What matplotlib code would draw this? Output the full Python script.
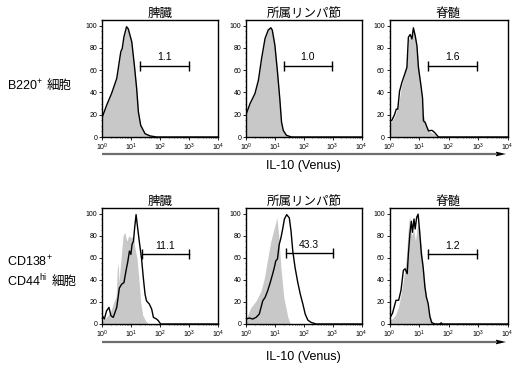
import numpy as np
import matplotlib
matplotlib.use("Agg")
import matplotlib.pyplot as plt
from matplotlib.ticker import FixedLocator, NullFormatter, MultipleLocator
from matplotlib.patches import Polygon
from matplotlib.lines import Line2D

plt.rcParams['font.family'] = ['Liberation Sans', 'Noto Sans CJK JP', 'DejaVu Sans']
plt.rcParams['mathtext.fontset'] = 'custom'
plt.rcParams['mathtext.rm'] = 'Liberation Sans'
plt.rcParams['mathtext.it'] = 'Liberation Sans:italic'
plt.rcParams['mathtext.bf'] = 'Liberation Sans:bold'

# ---------------- data ----------------
tissues = ["脾臓", "所属リンパ節", "脊髄"]
row_label_lines = [[("B220$^{+}$", "細胞")], [("CD138$^{+}$", ""), ("CD44$^{\\mathrm{hi}}$", "細胞")]]
x_axis_label = "IL-10 (Venus)"
tick_exps = [0, 1, 2, 3, 4]
y_ticks = [0, 20, 40, 60, 80, 100]

# gate percentages
gate_values = [["1.1", "1.0", "1.6"], ["11.1", "43.3", "1.2"]]
gate_lo = [[21, 20, 20], [23, 24, 20]]
gate_hi = [[1000, 950, 900], [1000, 1000, 900]]
gate_y = [[64, 64, 64], [63, 64, 63]]

# histograms: log10(fluorescence) positions and % of max
# top row
b_spl_log = [0, 0.15, 0.32, 0.5, 0.64, 0.69, 0.75, 0.84, 0.9, 1.02, 1.11, 1.19, 1.25, 1.33, 1.48, 1.65, 1.88, 4]
b_spl_y = [18, 28.5, 39, 52.5, 76.5, 79.5, 90, 99, 97, 85.5, 64.5, 43.5, 22.5, 10.5, 3, 1, 0, 0]

b_ln_log = [0, 0.14, 0.31, 0.43, 0.54, 0.66, 0.77, 0.86, 0.91, 1.0, 1.09, 1.17, 1.23, 1.29, 1.4, 1.58, 4]
b_ln_y = [20, 30, 39, 51, 70.5, 88.5, 96, 98, 96, 82.5, 58.5, 34.5, 13.5, 6, 1.5, 0, 0]

b_sc_black_log = [0, 0.08, 0.17, 0.23, 0.28, 0.34, 0.42, 0.51, 0.59, 0.64, 0.7, 0.76, 0.81, 0.87,
                  0.93, 0.98, 1.06, 1.12, 1.15, 1.21, 1.32, 1.44, 1.53, 1.66, 4]
b_sc_black_y = [14, 15, 20, 25, 25, 41, 49, 56, 62.5, 89.5, 92, 88, 98, 91,
                82, 62.5, 47.5, 35, 14.5, 13, 5.5, 6, 4, 0, 0]
b_sc_gray_log = [0, 0.1, 0.2, 0.3, 0.4, 0.5, 0.6, 0.65, 0.72, 0.8, 0.87, 0.93, 1.0, 1.08,
                 1.15, 1.25, 1.35, 1.5, 1.65, 4]
b_sc_gray_y = [12, 15, 20, 28, 45, 55, 68, 88, 90, 97, 92, 80, 60, 42, 20, 10, 5, 3, 0, 0]

# bottom row
p_spl_black_log = [0, 0.07, 0.15, 0.23, 0.3, 0.38, 0.44, 0.5, 0.59, 0.67, 0.75, 0.82, 0.88, 0.94,
                   0.99, 1.03, 1.08, 1.12, 1.17, 1.21, 1.28, 1.36, 1.42, 1.48, 1.53, 1.63, 1.71,
                   1.77, 1.88, 1.94, 2.02, 4]
p_spl_black_y = [7.5, 4.5, 12, 15, 7.5, 6, 10.5, 15, 32.5, 36, 37.5, 48, 56, 66,
                 63, 72, 75, 87, 99, 90, 75, 59, 42, 27, 21, 18, 13.5,
                 6, 4.5, 3, 0, 0]
p_spl_gray_log = [0, 0.1, 0.2, 0.3, 0.4, 0.48, 0.52, 0.55, 0.58, 0.65, 0.72, 0.78, 0.85, 0.92,
                  1.0, 1.07, 1.12, 1.2, 1.27, 1.33, 1.4, 1.5, 1.6, 4]
p_spl_gray_y = [3, 5, 8, 12, 20, 25, 50, 55, 38, 60, 80, 83, 75, 80,
                78, 80, 70, 60, 40, 20, 8, 3, 0, 0]

p_ln_black_log = [0, 0.12, 0.23, 0.35, 0.46, 0.58, 0.66, 0.75, 0.84, 0.92, 0.98, 1.03, 1.09, 1.15,
                  1.21, 1.27, 1.33, 1.41, 1.5, 1.56, 1.62, 1.7, 1.79, 1.88, 1.97, 2.05, 2.14,
                  2.25, 2.43, 4]
p_ln_black_y = [4.5, 5.4, 4.5, 6, 9, 21, 24, 30, 37.6, 45, 51, 57, 59, 72,
                78, 86, 95, 99, 96, 84, 66, 51, 38, 27, 18, 9, 3.6,
                1.5, 0, 0]
p_ln_gray_log = [0, 0.17, 0.35, 0.52, 0.64, 0.75, 0.86, 0.98, 1.07, 1.13, 1.21, 1.31, 1.45, 1.54, 4]
p_ln_gray_y = [4.5, 15, 21, 30, 42, 59, 75, 87, 96, 81, 51, 24, 6, 0, 0]

p_sc_black_log = [0, 0.1, 0.22, 0.31, 0.39, 0.47, 0.53, 0.6, 0.64, 0.69, 0.74, 0.78, 0.83, 0.87,
                  0.92, 0.97, 1.02, 1.08, 1.14, 1.2, 1.25, 1.31, 1.37, 1.43, 1.54, 1.7, 1.75, 1.8, 4]
p_sc_black_y = [5, 9.6, 21.5, 21.5, 30.5, 48.5, 50, 45.5, 63.5, 81, 93, 83, 95, 86,
                96.4, 99.4, 84.4, 63.5, 51.5, 33.5, 24.5, 18.5, 6.6, 1.2, 0, 0, 1, 0, 0]
p_sc_gray_log = [0, 0.1, 0.2, 0.3, 0.4, 0.5, 0.57, 0.63, 0.68, 0.75, 0.82, 0.88, 0.95, 1.02,
                 1.1, 1.17, 1.25, 1.33, 1.42, 1.5, 4]
p_sc_gray_y = [3, 5, 8, 15, 28, 45, 60, 85, 98, 80, 85, 75, 90, 85,
               65, 45, 25, 12, 4, 0, 0]

gray_curves = [[(b_spl_log, b_spl_y), (b_ln_log, b_ln_y), (b_sc_gray_log, b_sc_gray_y)],
               [(p_spl_gray_log, p_spl_gray_y), (p_ln_gray_log, p_ln_gray_y), (p_sc_gray_log, p_sc_gray_y)]]
black_curves = [[(b_spl_log, b_spl_y), (b_ln_log, b_ln_y), (b_sc_black_log, b_sc_black_y)],
                [(p_spl_black_log, p_spl_black_y), (p_ln_black_log, p_ln_black_y), (p_sc_black_log, p_sc_black_y)]]

# ---------------- layout ----------------
W, H = 520, 365
fig = plt.figure(figsize=(W / 100, H / 100), dpi=100)

col_left = [102.3, 246, 389.5]
col_w = [115.5, 115.5, 118]
row_top = [20, 208]
row_h = [117, 116]

def fx(px):
    return px / W

def fy(py):
    return 1 - py / H

for r in range(2):
    for c in range(3):
        ax = fig.add_axes([fx(col_left[c]), fy(row_top[r] + row_h[r]), col_w[c] / W, row_h[r] / H])
        gl, gy = gray_curves[r][c]
        bl, by = black_curves[r][c]
        gx = 10 ** np.array(gl, dtype=float)
        bx = 10 ** np.array(bl, dtype=float)
        ax.fill_between(gx, 0, gy, color='#c8c8c8', lw=0, zorder=1)
        ax.plot(bx, by, color='black', lw=1.0, zorder=2)
        ax.set_xscale('log')
        ax.set_xlim(1, 1e4)
        ax.set_ylim(0, 105)
        ax.set_xticks([10 ** e for e in tick_exps])
        ax.set_xticklabels([f"$10^{{{e}}}$" for e in tick_exps])
        ax.xaxis.set_minor_locator(FixedLocator([m * 10 ** e for e in range(4) for m in range(2, 10)]))
        ax.xaxis.set_minor_formatter(NullFormatter())
        ax.set_yticks(y_ticks)
        ax.yaxis.set_minor_locator(MultipleLocator(5))
        ax.tick_params(axis='both', which='major', labelsize=5, length=2, width=0.6, pad=1.5, direction='out')
        ax.tick_params(axis='both', which='minor', length=1, width=0.4, direction='out')
        for s in ax.spines.values():
            s.set_linewidth(1.0)
        # gate
        lo, hi, yy = gate_lo[r][c], gate_hi[r][c], gate_y[r][c]
        ax.plot([lo, hi], [yy, yy], color='black', lw=1.0, marker='|', ms=7, mew=1.0, zorder=3)
        ax.text(np.sqrt(lo * hi), yy + 3, gate_values[r][c], ha='center', va='bottom', fontsize=7.5)
        # title
        ax.set_title(tissues[c], fontsize=9, pad=1.5)

    # IL-10 axis arrow
    ypx = [154, 342][r]
    fig.add_artist(Line2D([fx(102), fx(497)], [fy(ypx), fy(ypx)], transform=fig.transFigure,
                          color='#6e6e6e', lw=1.6, solid_capstyle='butt'))
    fig.add_artist(Polygon([[fx(496), fy(ypx - 2.3)], [fx(506), fy(ypx)], [fx(496), fy(ypx + 2.3)]],
                           closed=True, transform=fig.transFigure, color='black', lw=0))
    fig.text(fx(303), fy([166, 357][r]), x_axis_label, ha='center', va='center', fontsize=9)

# row labels: Latin part (with superscripts) followed by CJK part
fig.canvas.draw()
renderer = fig.canvas.get_renderer()
label_y = [[90], [266, 286]]
for r in range(2):
    for (latin, cjk), ypx in zip(row_label_lines[r], label_y[r]):
        t = fig.text(fx(7), fy(ypx), latin, ha='left', va='baseline', fontsize=9)
        if cjk:
            bb = t.get_window_extent(renderer)
            fig.text(bb.x1 / W + fx(4), fy(ypx), cjk, ha='left', va='baseline', fontsize=9,
                     family=['Noto Sans CJK JP'])

fig.savefig("out.png", dpi=100)
